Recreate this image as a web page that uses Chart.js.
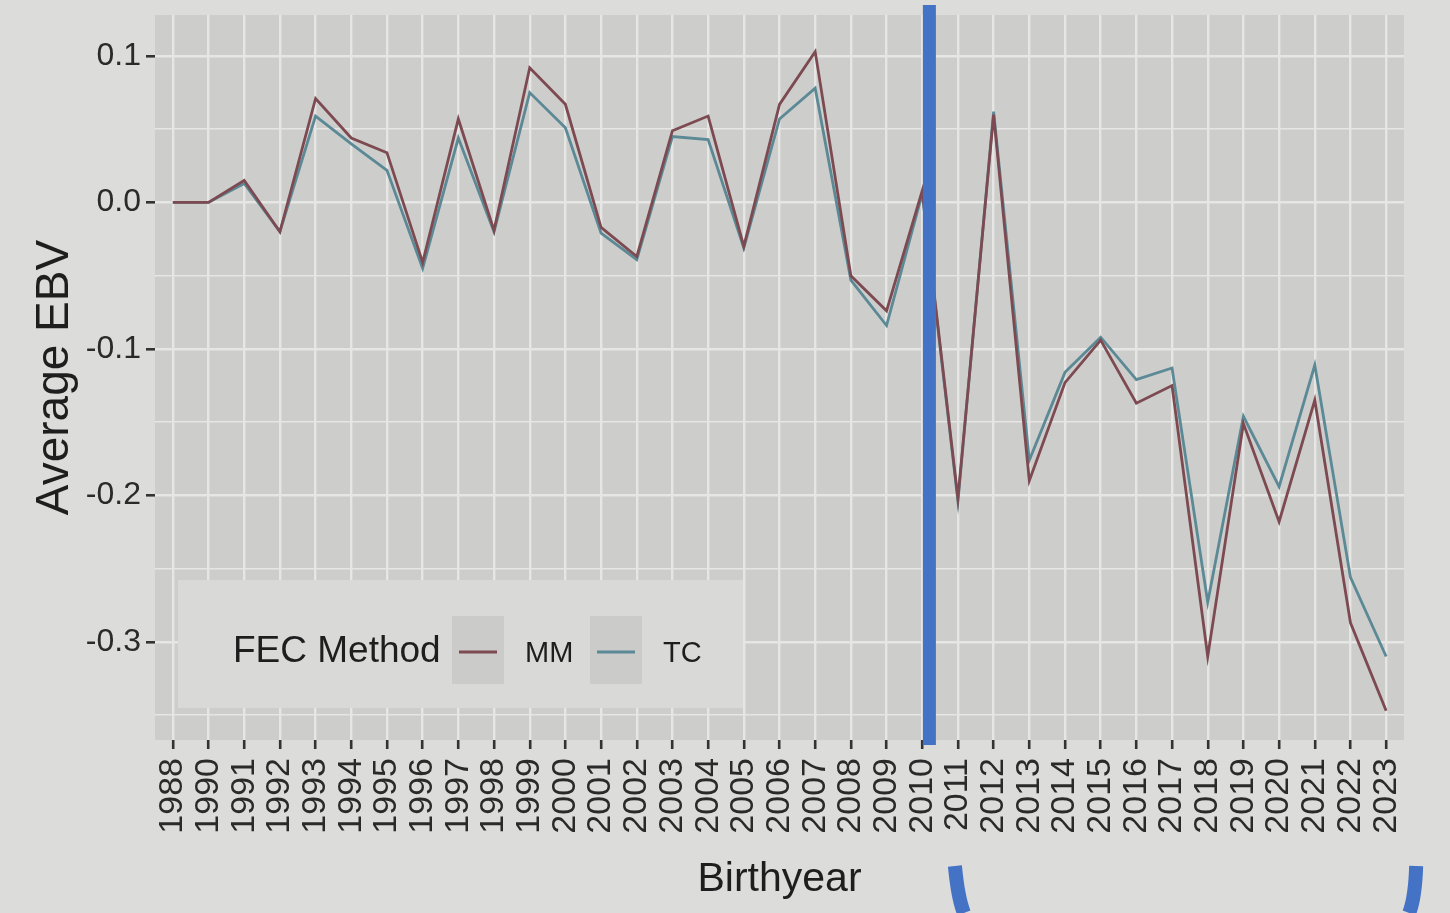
<!DOCTYPE html>
<html>
<head>
<meta charset="utf-8">
<script src="https://cdn.jsdelivr.net/npm/chart.js@4"></script>
<style>
  html, body { margin: 0; padding: 0; background: #dcdcda; }
  canvas { display: block; }
</style>
</head>
<body>
<canvas id="chart" width="1450" height="913"></canvas>
<script>
let years = ['1988', '1990', '1991', '1992', '1993', '1994', '1995', '1996', '1997', '1998',
    '1999', '2000', '2001', '2002', '2003', '2004', '2005', '2006', '2007', '2008',
    '2009', '2010', '2011', '2012', '2013', '2014', '2015', '2016', '2017', '2018',
    '2019', '2020', '2021', '2022', '2023']

// FEC Method = MM
let mmValues = [0.0, 0.0, 0.015, -0.02, 0.071, 0.044, 0.034, -0.041, 0.057, -0.019,
    0.092, 0.067, -0.017, -0.037, 0.049, 0.059, -0.03, 0.067, 0.103, -0.05,
    -0.074, 0.008, -0.202, 0.06, -0.19, -0.123, -0.094, -0.137, -0.125, -0.31,
    -0.151, -0.218, -0.135, -0.287, -0.347]

// FEC Method = TC
let tcValues = [0.0, 0.0, 0.013, -0.02, 0.059, 0.04, 0.022, -0.045, 0.044, -0.02,
    0.075, 0.051, -0.021, -0.039, 0.045, 0.043, -0.031, 0.057, 0.078, -0.053,
    -0.084, 0.006, -0.204, 0.062, -0.176, -0.116, -0.092, -0.121, -0.113, -0.273,
    -0.146, -0.194, -0.111, -0.256, -0.31]

let yTicks = [-0.35, -0.3, -0.25, -0.2, -0.15, -0.1, -0.05, 0, 0.05, 0.1]

let fontFamily = '"Liberation Sans", Arial, Helvetica, sans-serif'
let blue = '#4472c4'

function isMajor(v) {
    return Math.abs(Math.round(v * 10) - v * 10) < 1e-6
}

const panelBackground = {
    id: 'panelBackground',
    beforeDraw(chart) {
        let {ctx, chartArea} = chart
        ctx.save()
        ctx.fillStyle = '#dcdcda'
        ctx.fillRect(0, 0, chart.width, chart.height)
        ctx.fillStyle = '#cdcdcb'
        ctx.fillRect(chartArea.left, chartArea.top, chartArea.right - chartArea.left, chartArea.bottom - chartArea.top)
        ctx.restore()
    }
}

// blue divider between 2010 and 2011, drawn over the lines
const divider = {
    id: 'divider',
    afterDatasetsDraw(chart) {
        let {ctx, chartArea} = chart
        let xs = chart.scales.x
        let x0 = xs.getPixelForValue(21)
        let x1 = xs.getPixelForValue(22)
        let bx = x0 + (x1 - x0) * 0.2
        ctx.save()
        ctx.fillStyle = blue
        ctx.fillRect(bx - 6.5, 5, 13, chartArea.bottom)
        ctx.restore()
    }
}

// legend inside the panel, bottom left, plus the bracket marks under the axis
const insideLegend = {
    id: 'insideLegend',
    afterDraw(chart) {
        let {ctx, chartArea} = chart
        let x = chartArea.left + 23
        let y = chartArea.bottom - 160
        let w = 565
        let h = 128
        let cy = y + 72

        ctx.save()
        ctx.fillStyle = '#d9d9d7'
        ctx.fillRect(x, y, w, h)

        ctx.textBaseline = 'middle'
        ctx.fillStyle = '#1e1e1e'
        ctx.font = '37px ' + fontFamily
        ctx.fillText('FEC Method', x + 55, cy)

        let keyX = [x + 274, x + 412]
        chart.data.datasets.forEach((ds, i) => {
            ctx.fillStyle = '#cbcbc9'
            ctx.fillRect(keyX[i], y + 36, 52, 68)
            ctx.strokeStyle = ds.borderColor
            ctx.lineWidth = 2.8
            ctx.beginPath()
            ctx.moveTo(keyX[i] + 7, cy)
            ctx.lineTo(keyX[i] + 45, cy)
            ctx.stroke()
            ctx.fillStyle = '#1e1e1e'
            ctx.font = '29px ' + fontFamily
            ctx.fillText(ds.label, keyX[i] + 73, cy + 2)
        })

        let xs = chart.scales.x
        let H = chart.height
        let xa = xs.getPixelForValue(22)
        let xb = xs.getPixelForValue(34)
        ctx.strokeStyle = blue
        ctx.lineWidth = 14
        ctx.beginPath()
        ctx.moveTo(xa - 3, H - 47)
        ctx.quadraticCurveTo(xa, H - 15, xa + 6, H)
        ctx.stroke()
        ctx.beginPath()
        ctx.moveTo(xb + 30, H - 47)
        ctx.quadraticCurveTo(xb + 29, H - 15, xb + 23, H)
        ctx.stroke()
        ctx.restore()
    }
}

let ctx = document.querySelector('#chart').getContext('2d')

let chart = new Chart(ctx, {
    type: 'line',
    data: {
        labels: years,
        datasets: [{
            label: 'MM',
            data: mmValues,
            borderColor: '#7d4a52',
            borderWidth: 2.8,
            pointRadius: 0,
            tension: 0
        }, {
            label: 'TC',
            data: tcValues,
            borderColor: '#5b8995',
            borderWidth: 2.8,
            pointRadius: 0,
            tension: 0
        }]
    },
    options: {
        responsive: false,
        animation: false,
        layout: {
            padding: {top: 15, right: 46, bottom: 8, left: 0}
        },
        plugins: {
            legend: {display: false},
            tooltip: {enabled: false}
        },
        scales: {
            x: {
                type: 'category',
                offset: true,
                border: {display: false},
                grid: {
                    offset: false,
                    color: '#e6e6e4',
                    lineWidth: 2.4,
                    tickColor: '#333333',
                    tickLength: 9,
                    tickWidth: 2.6
                },
                ticks: {
                    autoSkip: false,
                    minRotation: 90,
                    maxRotation: 90,
                    padding: 9,
                    color: '#2a2a2a',
                    font: {family: fontFamily, size: 34}
                },
                title: {
                    display: true,
                    text: 'Birthyear',
                    color: '#1e1e1e',
                    font: {family: fontFamily, size: 41, lineHeight: 1.2},
                    padding: {top: 0, bottom: 1}
                },
                afterFit(scale) {
                    scale.height = 165
                    scale.paddingLeft = 0
                    scale.paddingRight = 0
                }
            },
            y: {
                type: 'linear',
                min: -0.367,
                max: 0.128,
                border: {display: false},
                afterBuildTicks(scale) {
                    scale.ticks = yTicks.map(v => ({value: v}))
                },
                grid: {
                    color: '#e6e6e4',
                    lineWidth: c => isMajor(c.tick.value) ? 2.6 : 1.6,
                    tickColor: c => isMajor(c.tick.value) ? '#333333' : 'rgba(0,0,0,0)',
                    tickLength: 9,
                    tickWidth: 2.6
                },
                ticks: {
                    padding: 5,
                    color: '#2a2a2a',
                    font: {family: fontFamily, size: 32},
                    callback: v => isMajor(v) ? v.toFixed(1) : ''
                },
                title: {
                    display: true,
                    text: 'Average EBV',
                    color: '#1e1e1e',
                    font: {family: fontFamily, size: 46, lineHeight: 1.2},
                    padding: {top: 28, bottom: 0}
                },
                afterFit(scale) {
                    scale.width = 155
                    scale.paddingTop = 0
                    scale.paddingBottom = 0
                }
            }
        }
    },
    plugins: [panelBackground, divider, insideLegend]
})
</script>
</body>
</html>
